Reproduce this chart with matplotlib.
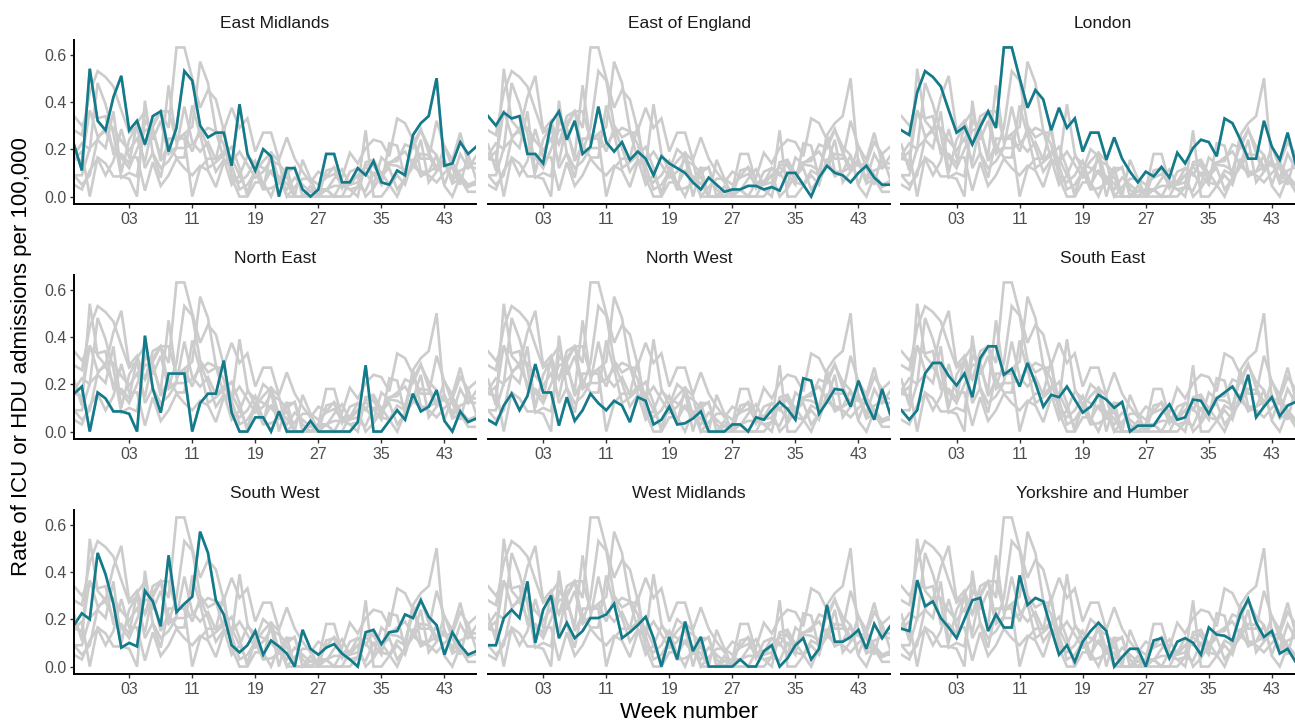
import matplotlib
matplotlib.use("Agg")
import matplotlib.pyplot as plt

plt.rcParams['font.family'] = ['Liberation Sans', 'DejaVu Sans']

# ISO weeks, from week 49 of 2020 to week 47 of 2021
weeks = ['49', '50', '51', '52', '53'] + ['%02d' % w for w in range(1, 48)]

regions = ['East Midlands', 'East of England', 'London',
           'North East', 'North West', 'South East',
           'South West', 'West Midlands', 'Yorkshire and Humber']

east_midlands = [0.22, 0.11, 0.54, 0.32, 0.28, 0.42, 0.51, 0.28, 0.32, 0.22,
                 0.34, 0.36, 0.19, 0.29, 0.53, 0.49, 0.30, 0.25, 0.27, 0.27,
                 0.13, 0.39, 0.18, 0.11, 0.20, 0.17, 0.00, 0.12, 0.12, 0.03,
                 0.00, 0.03, 0.18, 0.18, 0.06, 0.06, 0.12, 0.09, 0.15, 0.06,
                 0.05, 0.11, 0.09, 0.26, 0.31, 0.34, 0.50, 0.13, 0.14, 0.23,
                 0.18, 0.21]
east_of_england = [0.34, 0.30, 0.355, 0.33, 0.34, 0.18, 0.18, 0.14, 0.31, 0.36,
                   0.24, 0.32, 0.18, 0.21, 0.38, 0.23, 0.19, 0.23, 0.155, 0.19,
                   0.16, 0.09, 0.17, 0.14, 0.12, 0.10, 0.06, 0.03, 0.08, 0.05,
                   0.02, 0.03, 0.03, 0.045, 0.045, 0.03, 0.04, 0.025, 0.10, 0.10,
                   0.05, 0.00, 0.08, 0.13, 0.10, 0.09, 0.06, 0.10, 0.13, 0.08,
                   0.05, 0.05]
london = [0.28, 0.26, 0.44, 0.53, 0.505, 0.465, 0.365, 0.27, 0.295, 0.22,
          0.295, 0.36, 0.29, 0.63, 0.63, 0.50, 0.375, 0.45, 0.41, 0.28,
          0.375, 0.29, 0.33, 0.19, 0.27, 0.27, 0.155, 0.25, 0.16, 0.105,
          0.06, 0.105, 0.085, 0.125, 0.08, 0.185, 0.14, 0.205, 0.24, 0.23,
          0.17, 0.33, 0.31, 0.24, 0.16, 0.16, 0.32, 0.21, 0.155, 0.27,
          0.14, 0.14]
north_east = [0.16, 0.19, 0.00, 0.165, 0.14, 0.085, 0.085, 0.075, 0.00, 0.405,
              0.18, 0.08, 0.245, 0.245, 0.245, 0.00, 0.12, 0.16, 0.16, 0.30,
              0.08, 0.00, 0.00, 0.06, 0.06, 0.00, 0.085, 0.00, 0.00, 0.00,
              0.045, 0.00, 0.00, 0.00, 0.00, 0.00, 0.04, 0.28, 0.00, 0.00,
              0.045, 0.09, 0.05, 0.16, 0.085, 0.105, 0.175, 0.045, 0.00, 0.085,
              0.04, 0.055]
north_west = [0.05, 0.03, 0.11, 0.16, 0.09, 0.15, 0.285, 0.165, 0.165, 0.025,
              0.145, 0.045, 0.09, 0.16, 0.12, 0.09, 0.13, 0.11, 0.04, 0.145,
              0.13, 0.03, 0.05, 0.105, 0.03, 0.035, 0.055, 0.085, 0.00, 0.00,
              0.00, 0.03, 0.03, 0.00, 0.06, 0.05, 0.09, 0.125, 0.095, 0.05,
              0.225, 0.215, 0.075, 0.125, 0.18, 0.175, 0.105, 0.215, 0.12, 0.05,
              0.18, 0.075]
south_east = [0.09, 0.05, 0.09, 0.245, 0.29, 0.29, 0.235, 0.195, 0.245, 0.145,
              0.31, 0.36, 0.36, 0.24, 0.265, 0.19, 0.29, 0.205, 0.105, 0.155,
              0.145, 0.19, 0.135, 0.08, 0.105, 0.155, 0.135, 0.10, 0.125, 0.00,
              0.025, 0.025, 0.025, 0.075, 0.115, 0.05, 0.06, 0.135, 0.13, 0.075,
              0.14, 0.165, 0.19, 0.135, 0.24, 0.06, 0.105, 0.145, 0.065, 0.11,
              0.125, 0.12]
south_west = [0.175, 0.225, 0.20, 0.48, 0.39, 0.265, 0.08, 0.10, 0.085, 0.32,
              0.275, 0.17, 0.47, 0.23, 0.265, 0.295, 0.57, 0.48, 0.28, 0.22,
              0.09, 0.06, 0.09, 0.15, 0.05, 0.11, 0.085, 0.055, 0.00, 0.155,
              0.075, 0.05, 0.08, 0.095, 0.055, 0.03, 0.00, 0.145, 0.155, 0.095,
              0.145, 0.15, 0.22, 0.205, 0.28, 0.21, 0.175, 0.05, 0.145, 0.09,
              0.05, 0.065]
west_midlands = [0.09, 0.09, 0.205, 0.24, 0.205, 0.36, 0.10, 0.24, 0.30, 0.12,
                 0.185, 0.12, 0.15, 0.205, 0.205, 0.22, 0.265, 0.12, 0.145, 0.175,
                 0.21, 0.12, 0.00, 0.125, 0.03, 0.19, 0.065, 0.125, 0.00, 0.00,
                 0.00, 0.00, 0.03, 0.00, 0.00, 0.065, 0.09, 0.00, 0.035, 0.09,
                 0.12, 0.03, 0.075, 0.26, 0.105, 0.105, 0.125, 0.155, 0.075, 0.18,
                 0.12, 0.17]
yorkshire_humber = [0.16, 0.15, 0.365, 0.255, 0.275, 0.205, 0.165, 0.12, 0.20, 0.28,
                    0.29, 0.15, 0.22, 0.165, 0.165, 0.385, 0.26, 0.29, 0.275, 0.16,
                    0.05, 0.09, 0.02, 0.105, 0.15, 0.185, 0.15, 0.00, 0.04, 0.075,
                    0.075, 0.00, 0.11, 0.12, 0.035, 0.105, 0.12, 0.10, 0.05, 0.165,
                    0.135, 0.13, 0.11, 0.22, 0.285, 0.185, 0.125, 0.15, 0.055, 0.075,
                    0.02, 0.02]

series = [east_midlands, east_of_england, london, north_east, north_west,
          south_east, south_west, west_midlands, yorkshire_humber]

teal = '#117B8B'
grey = '#CCCCCC'
W, H = 1295, 724

fig = plt.figure(figsize=(W / 100, H / 100), dpi=100)

col_left = [74, 488, 901.4]
row_top = [40, 275, 510]
pw, ph = 402, 164
x = list(range(len(weeks)))
tick_pos = list(range(7, len(weeks), 8))

for k, name in enumerate(regions):
    r, c = divmod(k, 3)
    ax = fig.add_axes([col_left[c] / W, 1 - (row_top[r] + ph) / H, pw / W, ph / H])
    for s in series:
        ax.plot(x, s, color=grey, lw=1.9, solid_joinstyle='miter', zorder=1)
    ax.plot(x, series[k], color=teal, lw=1.9, solid_joinstyle='miter', zorder=2)

    ax.set_xlim(0, len(weeks) - 1)
    ax.set_ylim(-0.0315, 0.6615)
    ax.set_xticks(tick_pos)
    ax.set_xticklabels([weeks[i] for i in tick_pos])
    ax.set_yticks([0.0, 0.2, 0.4, 0.6])
    ax.set_yticklabels(['0.0', '0.2', '0.4', '0.6'])
    ax.tick_params(labelsize=11.5, labelcolor='#4D4D4D', color='#333333',
                   length=3, width=1, pad=2.5)
    for sp in ['top', 'right']:
        ax.spines[sp].set_visible(False)
    ax.spines['bottom'].set_linewidth(1.4)
    ax.spines['left'].set_linewidth(1.4)
    if c > 0:
        ax.spines['left'].set_visible(False)
        ax.tick_params(left=False, labelleft=False)
    ax.set_title(name, fontsize=12.5, color='#1A1A1A', pad=8.5)

fig.text(22 / W, 1 - 357 / H, 'Rate of ICU or HDU admissions per 100,000',
         rotation=90, ha='center', va='center', fontsize=16, color='black')
fig.text(689 / W, 1 - 713 / H, 'Week number', ha='center', va='center',
         fontsize=16, color='black')

fig.savefig('out.png', dpi=100, facecolor='white')
